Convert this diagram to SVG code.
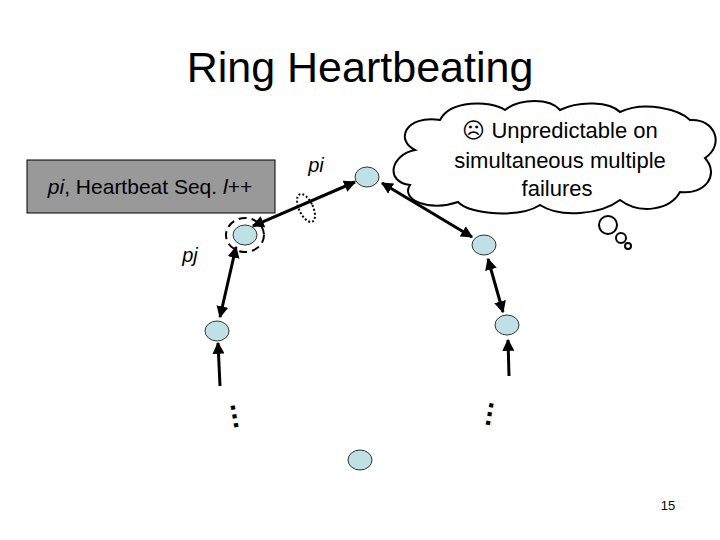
<svg xmlns="http://www.w3.org/2000/svg" width="720" height="540" viewBox="0 0 720 540">
<style>
text{font-family:"Liberation Sans",Arial,sans-serif;fill:#000}
.n{fill:#bfe0e4;stroke:#333;stroke-width:1}
.c{stroke:#000;stroke-width:3;fill:none;marker-end:url(#a)}
.b{marker-start:url(#s)}
</style>
<defs>
<marker id="a" viewBox="0 0 10 10" refX="9" refY="5" markerWidth="4" markerHeight="4" orient="auto"><path d="M0,0L10,5L0,10z"/></marker>
<marker id="s" viewBox="0 0 10 10" refX="1" refY="5" markerWidth="4" markerHeight="4" orient="auto"><path d="M10,0L0,5L10,10z"/></marker>
</defs>
<rect width="720" height="540" fill="#fff"/>
<text x="360" y="82" font-size="43" text-anchor="middle">Ring Heartbeating</text>
<g id="label-box"><rect x="27" y="160" width="248" height="53" fill="#999" stroke="#000"/>
<text x="150" y="194" font-size="21" text-anchor="middle"><tspan font-style="italic">pi</tspan>, Heartbeat Seq. <tspan font-style="italic">l</tspan>++</text></g>
<g id="cloud">
<path d="M415,150 C395,140 405,115 440,120 C450,100 490,100 505,110 C520,98 550,98 560,110 C580,100 610,102 620,112 C645,100 680,110 690,120 C715,118 725,145 705,158 C720,175 705,195 680,192 C670,210 640,215 620,200 C600,215 560,218 540,205 C520,218 470,215 458,202 C430,212 400,200 410,185 C385,182 390,155 415,150 Z" fill="#fff" stroke="#000" stroke-width="2"/>
<text x="560" y="138" font-size="22" text-anchor="middle">☹ Unpredictable on</text>
<text x="560" y="168" font-size="22" text-anchor="middle">simultaneous multiple</text>
<text x="557" y="196" font-size="22" text-anchor="middle">failures</text>
<circle cx="608" cy="225" r="9" fill="#fff" stroke="#000" stroke-width="2"/>
<circle cx="621" cy="238" r="5" fill="#fff" stroke="#000" stroke-width="2"/>
<circle cx="628" cy="246" r="3" fill="#fff" stroke="#000" stroke-width="2"/>
</g>
<g id="connectors">
<line class="c b" x1="382" y1="183" x2="472" y2="237"/>
<line class="c b" x1="488" y1="259" x2="503" y2="312"/>
<line class="c" x1="509" y1="376" x2="508" y2="340"/>
<line class="c b" x1="253" y1="226" x2="355" y2="182"/>
<line class="c b" x1="236" y1="247" x2="220" y2="317"/>
<line class="c" x1="220" y1="386" x2="218" y2="343"/>
</g>
<g id="n1"><ellipse class="n" cx="367" cy="177" rx="12" ry="10"/></g>
<g id="n2"><ellipse class="n" cx="484" cy="245" rx="12" ry="10"/></g>
<g id="n3"><ellipse class="n" cx="507" cy="325" rx="12" ry="10"/></g>
<g id="n4"><ellipse class="n" cx="360" cy="460" rx="12" ry="10"/></g>
<g id="n5"><ellipse class="n" cx="245" cy="235" rx="12" ry="10"/>
<ellipse cx="245" cy="235" rx="19" ry="17" fill="none" stroke="#000" stroke-width="2" stroke-dasharray="8,5"/></g>
<g id="n6"><ellipse class="n" cx="217" cy="331" rx="12" ry="10"/></g>
<ellipse cx="306" cy="208" rx="7" ry="15" transform="rotate(-25 306 208)" fill="none" stroke="#000" stroke-width="2" stroke-dasharray="2,2"/>
<text x="316" y="172" font-size="20" font-style="italic" text-anchor="middle">pi</text>
<text x="190" y="262" font-size="20" font-style="italic" text-anchor="middle">pj</text>
<text x="0" y="0" font-size="28" font-weight="bold" transform="translate(230,403) rotate(80)">…</text>
<text x="0" y="0" font-size="28" font-weight="bold" transform="translate(490,400) rotate(100)">…</text>
<text x="668" y="510" font-size="13" text-anchor="middle">15</text>
</svg>
